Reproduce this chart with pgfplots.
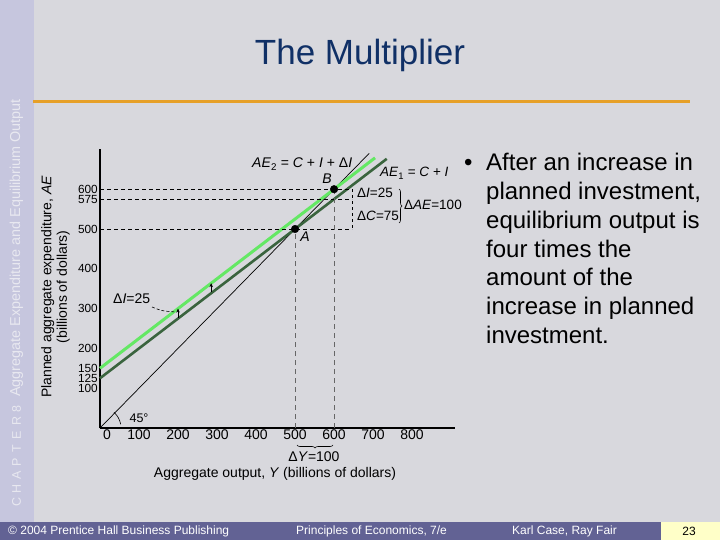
\documentclass[border=0pt]{standalone}
\usepackage{fontspec}
\setmainfont{Liberation Sans}
\usepackage{pgfplots}
\pgfplotsset{compat=1.18}
\usetikzlibrary{arrows.meta,decorations.pathreplacing}

\definecolor{bg}{RGB}{216,216,221}
\definecolor{side}{RGB}{198,198,222}
\definecolor{sidetext}{RGB}{232,232,240}
\definecolor{titleblue}{RGB}{16,48,102}
\definecolor{rule}{RGB}{230,160,40}
\definecolor{footer}{RGB}{98,98,148}
\definecolor{pagebox}{RGB}{255,255,200}
\definecolor{aeone}{RGB}{58,100,62}
\definecolor{aetwo}{RGB}{100,232,100}

\newcommand{\fs}[1]{\fontsize{#1}{#1}\selectfont}
\newcommand{\spl}[1]{\makebox[13.5pt][l]{#1}}

\begin{document}
\begin{tikzpicture}
% background
\fill[bg] (0pt,0pt) rectangle (720pt,-540pt);
\fill[side] (0pt,0pt) rectangle (34pt,-522pt);
\node[rotate=90, anchor=west, text=sidetext, font=\fs{12.5}, inner sep=0pt]
  at (16.5pt,-507pt) {\spl{C}\spl{H}\spl{A}\spl{P}\spl{T}\spl{E}\spl{R}8};
\node[rotate=90, anchor=west, text=sidetext, font=\fs{14.4}, inner sep=0pt]
  at (16.5pt,-397pt) {Aggregate Expenditure and Equilibrium Output};
\draw[rule, line width=3pt] (33pt,-102pt) -- (690pt,-102pt);
\node[anchor=base, text=titleblue, font=\fs{35}] at (360pt,-65pt) {The Multiplier};

% footer
\fill[footer] (0pt,-522pt) rectangle (661pt,-540pt);
\fill[pagebox] (661pt,-522pt) rectangle (720pt,-540pt);
\node[anchor=west, text=white, font=\fs{12}, inner sep=0pt] at (8pt,-531pt) {© 2004 Prentice Hall Business Publishing};
\node[anchor=west, text=white, font=\fs{12}, inner sep=0pt] at (296pt,-531pt) {Principles of Economics, 7/e};
\node[anchor=west, text=white, font=\fs{12}, inner sep=0pt] at (512pt,-531pt) {Karl Case, Ray Fair};
\node[text=black, font=\fs{12}, inner sep=0pt] at (689pt,-531pt) {23};

% bullet text
\node[anchor=base west, font=\fs{24}, inner sep=0pt] at (464pt,-171pt) {•};
\foreach \t [count=\i from 0] in {After an increase in, {planned investment,}, equilibrium output is, four times the, amount of the, increase in planned, investment.}{
  \node[anchor=base west, font=\fs{24}, inner sep=0pt] at (486pt,-171pt-\i*28.7pt) {\t};
}

\begin{axis}[
  at={(100pt,-428pt)}, anchor=south west,
  scale only axis, width=355pt, height=278.6pt,
  xmin=0, xmax=910, ymin=0, ymax=700,
  axis x line=bottom, axis y line=left,
  axis line style={line width=2.6pt, -},
  xtick={100,200,...,800},
  extra x ticks={0},
  extra x tick style={xticklabel style={xshift=7pt}},
  ytick={100,125,150,200,300,400,500,575,600},
  major tick length=0pt,
  /pgf/number format/assume math mode=true,
  xticklabel style={font=\fs{14}, inner sep=2pt},
  yticklabel style={font=\fs{11.8}, inner sep=0pt, xshift=-2pt},
  clip=false,
]
\addplot[black, line width=0.7pt] coordinates {(0,0) (690,690)};
\addplot[aeone, line width=2.6pt] coordinates {(0,125) (735,676.25)};
\addplot[aetwo, line width=3pt] coordinates {(0,150) (705,678.75)};

% dashed guides
\draw[black, line width=0.7pt, dash pattern=on 4pt off 3pt] (axis cs:0,600) -- (axis cs:646,600);
\draw[black, line width=0.7pt, dash pattern=on 4pt off 3pt] (axis cs:0,575) -- (axis cs:646,575);
\draw[black, line width=0.7pt, dash pattern=on 4pt off 3pt] (axis cs:0,500) -- (axis cs:646,500);
\draw[black, line width=0.7pt, dash pattern=on 3pt off 3pt] (axis cs:646,600) -- (axis cs:646,500);
\draw[black!60, line width=1.1pt, dash pattern=on 5pt off 4pt] (axis cs:500,0) -- (axis cs:500,500);
\draw[black!60, line width=1.1pt, dash pattern=on 5pt off 4pt] (axis cs:600,0) -- (axis cs:600,600);

% shift arrows
\draw[-{Stealth[length=4pt,width=3.5pt]}, line width=0.6pt] (axis cs:200,277) -- (axis cs:200,300);
\draw[-{Stealth[length=4pt,width=3.5pt]}, line width=0.6pt] (axis cs:285,341) -- (axis cs:285,364);

\addplot[only marks, mark=*, mark size=3.8pt, black] coordinates {(500,500) (600,600)};

% 45 degree arc
\draw[black, line width=0.6pt] (axis cs:0,0) ++(10:21pt) arc[start angle=10, end angle=48, radius=21pt];
\end{axis}

% annotations (slide pixel positions)
\draw[black, line width=0.6pt, dash pattern=on 3pt off 2pt] (152pt,-307pt) .. controls (162pt,-311pt) .. (176pt,-312pt);
\node[anchor=west, font=\fs{14}, inner sep=0pt] at (113pt,-299pt) {Δ\textit{I}=25};
\node[font=\fs{12.5}, inner sep=0pt] at (139pt,-418pt) {45°};
\node[anchor=base west, font=\fs{14}, inner sep=0pt] at (252pt,-168pt) {\textit{AE}\textsubscript{2} = \textit{C} + \textit{I} + Δ\textit{I}};
\node[anchor=base west, font=\fs{13.5}, inner sep=0pt] at (380pt,-177pt) {\textit{AE}\textsubscript{1} = \textit{C} + \textit{I}};
\node[font=\fs{14}, inner sep=0pt] at (327pt,-179pt) {\textit{B}};
\node[font=\fs{14}, inner sep=0pt] at (305pt,-237pt) {\textit{A}};
\node[anchor=west, font=\fs{13.5}, inner sep=0pt] at (357pt,-193pt) {Δ\textit{I}=25};
\node[anchor=west, font=\fs{13.5}, inner sep=0pt] at (357pt,-216pt) {Δ\textit{C}=75};
\draw[black, line width=0.6pt, decorate, decoration={brace, amplitude=3pt}] (399pt,-189pt) -- (399pt,-223pt);
\node[anchor=west, font=\fs{13.5}, inner sep=0pt] at (404pt,-205pt) {Δ\textit{AE}=100};
\draw[black, line width=0.6pt, decorate, decoration={brace, mirror, amplitude=3pt}] (297pt,-445pt) -- (333pt,-445pt);
\node[font=\fs{14}, inner sep=0pt] at (314pt,-457pt) {Δ\textit{Y}=100};
\node[font=\fs{14}, inner sep=0pt] at (275pt,-474pt) {Aggregate output, \textit{Y} (billions of dollars)};
\node[rotate=90, align=center, font=\fontsize{14}{15.5}\selectfont, inner sep=0pt] at (55.5pt,-287pt) {Planned aggregate expenditure, \textit{AE}\\(billions of dollars)};

\pgfresetboundingbox
\path[use as bounding box] (0pt,0pt) rectangle (720pt,-540pt);
\end{tikzpicture}
\end{document}
